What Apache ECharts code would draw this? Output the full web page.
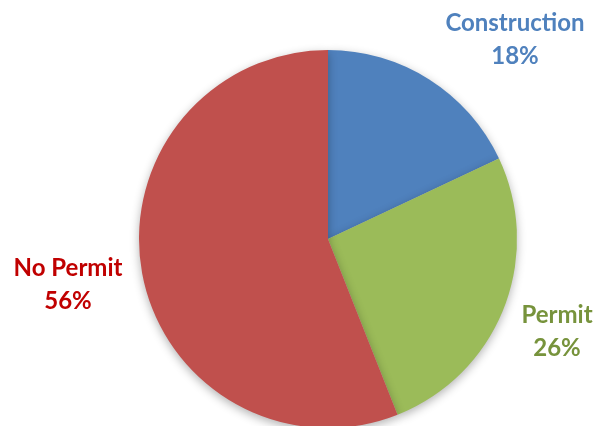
<!DOCTYPE html>
<html>
<head>
<meta charset="utf-8">
<script src="https://cdn.jsdelivr.net/npm/echarts@6/dist/echarts.min.js"></script>
<style>
  html, body { margin: 0; padding: 0; background: #ffffff; }
  #chart { width: 596px; height: 426px; }
</style>
</head>
<body>
<div id="chart"></div>
<script>
// Share of projects by permit status
const categories = ['Construction', 'Permit', 'No Permit'];
const shares = [18, 26, 56];

const sliceColors = ['#4F81BD', '#9BBB59', '#C0504D'];
const labelColors = ['#4F81BD', '#77933C', '#C00000'];
// label block centres (px)
const labelCentres = [[515, 40], [557, 332], [68, 285]];

const chart = echarts.init(document.getElementById('chart'), null, { renderer: 'canvas' });

chart.setOption({
  animation: false,
  series: [{
    type: 'pie',
    center: [328, 239],
    radius: 189,
    startAngle: 90,
    clockwise: true,
    avoidLabelOverlap: false,
    itemStyle: {
      borderWidth: 0,
      shadowBlur: 10,
      shadowOffsetY: 3,
      shadowColor: 'rgba(0,0,0,0.3)'
    },
    label: {
      show: true,
      position: 'outside',
      formatter: p => p.name + '\n' + p.value + '%',
      fontFamily: 'Lato',
      fontWeight: 'bold',
      fontSize: 24,
      lineHeight: 33,
      align: 'center'
    },
    labelLine: { show: false },
    labelLayout: p => ({
      x: labelCentres[p.dataIndex][0],
      y: labelCentres[p.dataIndex][1],
      align: 'center',
      verticalAlign: 'middle'
    }),
    data: categories.map((c, i) => ({
      name: c,
      value: shares[i],
      itemStyle: { color: sliceColors[i] },
      label: { color: labelColors[i] }
    }))
  }]
});
</script>
</body>
</html>
